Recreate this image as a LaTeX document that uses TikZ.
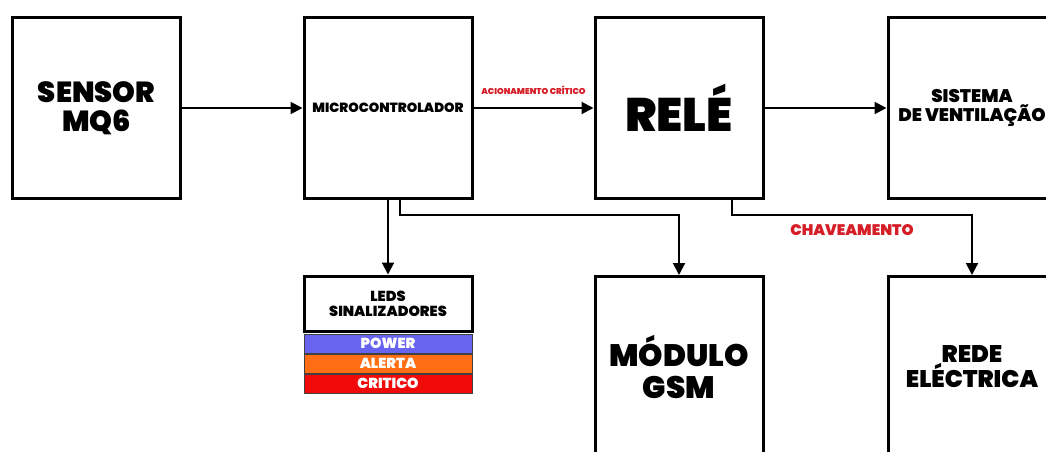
\documentclass[tikz,border=0pt]{standalone}
\usepackage{fontspec}
\newfontfamily\hv{Poppins Black}
\usetikzlibrary{arrows.meta}
\definecolor{acred}{RGB}{214,30,40}
\definecolor{ledblue}{RGB}{104,100,240}
\definecolor{ledorange}{RGB}{255,110,20}
\definecolor{ledred}{RGB}{240,10,10}
\newcommand\fsz[2]{\fontsize{#1}{#2}\selectfont}
\begin{document}
\begin{tikzpicture}[x=1pt,y=-1pt,
  box/.style={draw=black,line width=3pt,fill=white,minimum width=168pt,minimum height=181pt,inner sep=0pt,align=center},
  link/.style={line width=2pt,-{Triangle[length=12pt,width=12pt]}},
  band/.style={draw=black!75,line width=1pt,minimum width=168pt,minimum height=19pt,inner sep=0pt,font={\hv\fsz{14.5}{14.5}},text=white},
  lbl/.style={text=acred,inner sep=0pt}
]
\useasboundingbox (0,0) rectangle (1046,451);
\fill[white] (0,0) rectangle (1046,451);
\clip (0,0) rectangle (1046,451);

\node[box,font={\hv\fsz{29}{29}}] (sensor) at (96.5,108) {SENSOR\\MQ6};
\node[box,font={\hv\fsz{13.3}{16}}] (micro) at (388,108) {MICROCONTROLADOR};
\node[box,font={\hv\fsz{47}{48}}] (rele) at (679,108) {RELÉ};
\node[box,font={\hv\fsz{18.2}{19}}] (sist) at (972,108) {SISTEMA\\DE VENTILAÇÃO};
\node[box,font={\hv\fsz{31}{32}}] (gsm) at (679,367) {MÓDULO\\GSM};
\node[box,font={\hv\fsz{24}{25}}] (rede) at (972,367) {REDE\\ELÉCTRICA};

\node[box,minimum height=55pt,font={\hv\fsz{14.5}{15}}] (leds) at (388,303.5) {LEDS\\SINALIZADORES};
\node[band,fill=ledblue,anchor=north] (power) at ([yshift=-1pt]leds.south) {POWER};
\node[band,fill=ledorange,anchor=north] (alerta) at (power.south) {ALERTA};
\node[band,fill=ledred,anchor=north] (critico) at (alerta.south) {CRITICO};

\draw[link] (sensor) -- (micro);
\draw[link] (micro) -- node[midway,yshift=18pt,lbl,font={\hv\fsz{8.5}{9}}] {ACIONAMENTO CRÍTICO} (rele);
\draw[link] (rele) -- (sist);
\draw[link] (micro.south) -- (leds.north);
\draw[link] ([xshift=12pt]micro.south) |- ([yshift=60pt]gsm.north) -- (gsm.north);
\draw[link] ([xshift=53pt]rele.south) |- node[pos=0.75,yshift=-15pt,lbl,font={\hv\fsz{15.3}{16}}] {CHAVEAMENTO} ([yshift=60pt]rede.north) -- (rede.north);
\end{tikzpicture}
\end{document}
